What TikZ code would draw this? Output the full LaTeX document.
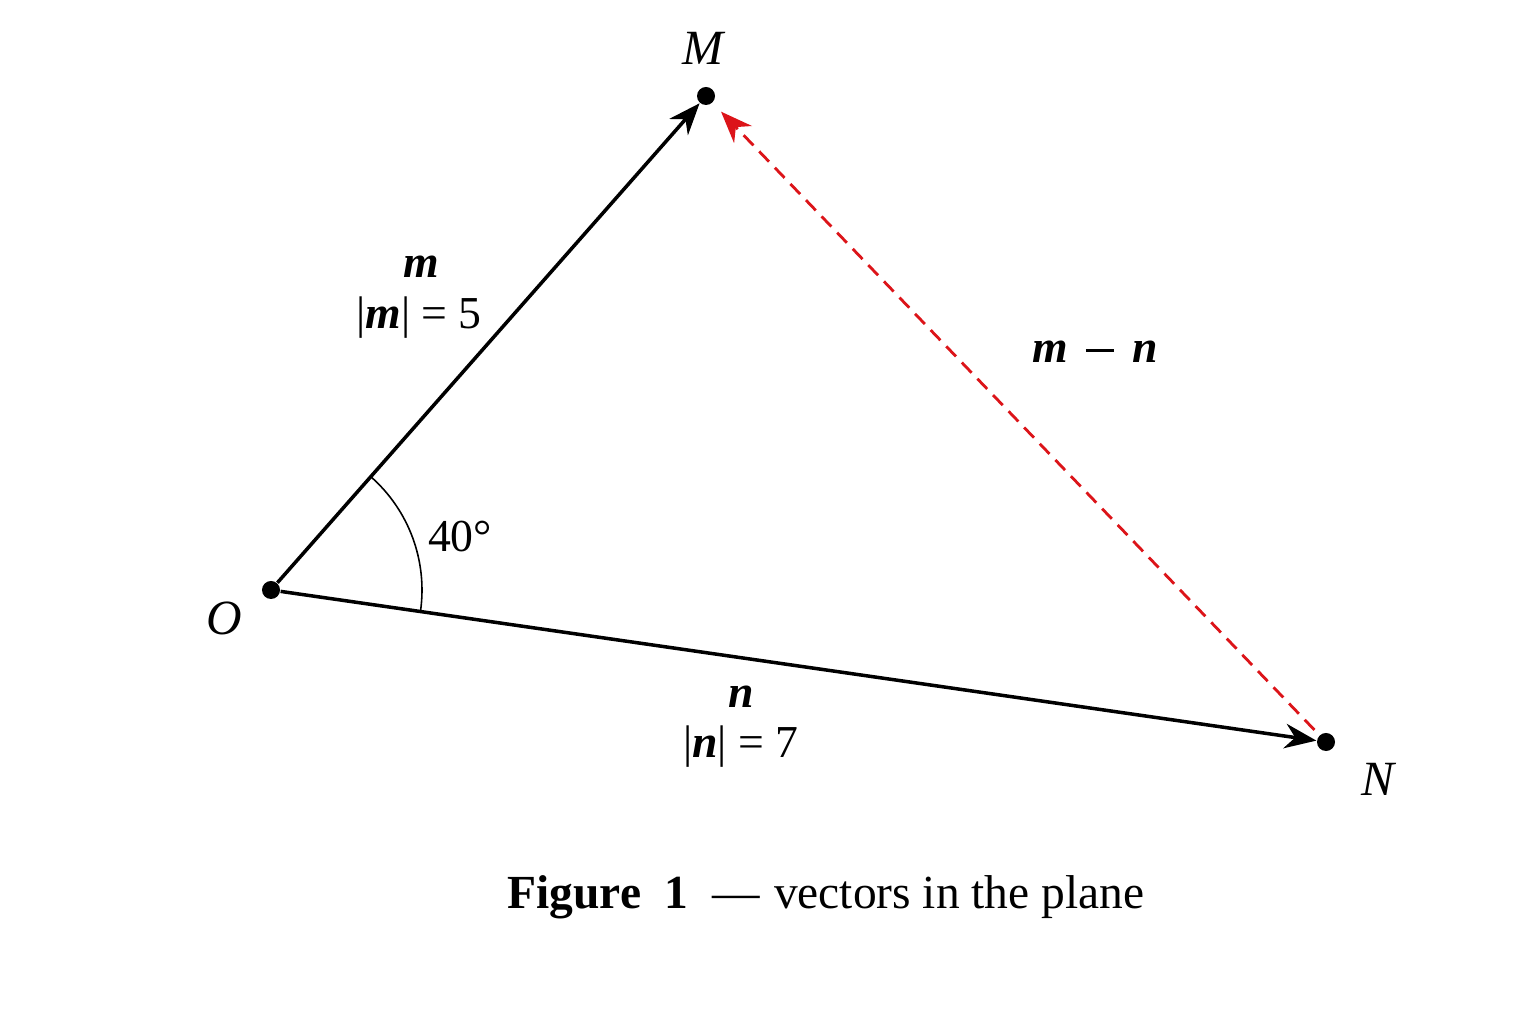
\documentclass[tikz,border=0pt]{standalone}
\usepackage{fontspec}
\setmainfont{Liberation Serif}
\usetikzlibrary{arrows.meta}
\definecolor{diffred}{RGB}{220,20,25}
\newcommand{\bv}[1]{\textbf{\textit{#1}}}
\newcommand{\minussign}{\raisebox{0.24em}{\rule{0.62em}{0.07em}}}

\begin{document}
\begin{tikzpicture}[x=0.01cm, y=0.01cm,
  dot/.style={circle, fill=black, inner sep=0pt, minimum size=0.18cm},
  ptlabel/.style={font=\fontsize{14pt}{16pt}\selectfont\itshape},
  veclabel/.style={font=\fontsize{13pt}{15pt}\selectfont, align=center},
  vec/.style={->, >={Stealth[length=9pt, width=7pt]}, line width=1pt},
  diff/.style={->, >={Stealth[length=9pt, width=7pt]}, draw=diffred, line width=0.8pt,
    dash pattern=on 4pt off 2.4pt}]

\useasboundingbox (0,0) rectangle (1536,1024);

% points
\node[dot] (O) at (271, 434) {};
\node[dot] (M) at (706, 928) {};
\node[dot] (N) at (1326, 282) {};

\node[ptlabel] (O_label) at (224, 406) {O};
\node[ptlabel] (M_label) at (703, 976) {M};
\node[ptlabel] (N_label) at (1378, 245) {N};

% vectors m and n
\draw[vec] (O) -- (M);
\draw[vec] (O) -- (N);

% m - n
\draw[diff, shorten >=0.12cm, shorten <=0.07cm] (N) -- (M);

% angle
\draw[line width=0.45pt] (O.center) ++(-8.2:151) arc[start angle=-8.2, end angle=48.6, radius=151];
\node[veclabel] (angle) at (460, 487) {40°};

% labels
\node[veclabel] (m_name) at (421, 757) {\bv{m}};
\node[veclabel] (m_len) at (419, 706) {|\bv{m}| = 5};
\node[veclabel] (mn_name) at (1095, 672) {\bv{m}\hspace{0.4em}\minussign\hspace{0.4em}\bv{n}};
\node[veclabel] (n_name) at (741, 327) {\bv{n}};
\node[veclabel] (n_len) at (741, 277) {|\bv{n}| = 7};

% caption
\node[font=\fontsize{13.5pt}{16pt}\selectfont] (caption) at (826, 127) {\textbf{Figure\ \ 1}\ \ —\hspace{0.3em}vectors in the plane};

\end{tikzpicture}
\end{document}
